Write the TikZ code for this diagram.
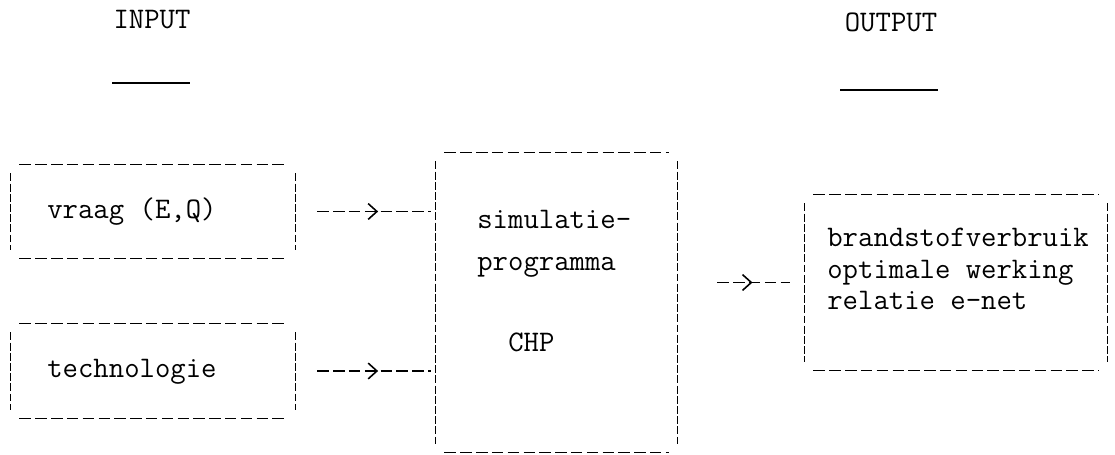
\documentclass[tikz,border=0pt]{standalone}
\usepackage{tikz}
\usetikzlibrary{arrows.meta,decorations.markings}

\tikzset{
  twtext/.style={font=\ttfamily\fontsize{17}{18}\selectfont, inner sep=0pt},
  hline/.style={line width=0.9pt, dash pattern=on 6.5pt off 2.5pt},
  vline/.style={line width=0.9pt, dash pattern=on 4.5pt off 1.3pt},
  boxnode/.style={draw=none, inner sep=0pt},
  flow/.style={hline, postaction={decorate},
    decoration={markings, mark=at position 0.59 with {\arrow{Straight Barb[length=5pt,width=9pt,line width=0.9pt]}}}}
}

% typed box: four dashed sides with small gaps at the corners
\newcommand{\twbox}[1]{%
  \draw[hline] ([xshift=5pt]#1.north west) -- ([xshift=-5pt]#1.north east);
  \draw[hline] ([xshift=5pt]#1.south west) -- ([xshift=-5pt]#1.south east);
  \draw[vline] ([yshift=-5pt]#1.north west) -- ([yshift=5pt]#1.south west);
  \draw[vline] ([yshift=-5pt]#1.north east) -- ([yshift=5pt]#1.south east);}

\begin{document}
\begin{tikzpicture}[x=0.02cm, y=0.02cm]
                \useasboundingbox (0,0) rectangle (1115,-455);
                % headings
                \node[twtext] (input) at (152,-20) {INPUT};
                \draw[line width=0.7pt] (112,-83) -- (190,-83);
                \node[twtext] (output) at (891,-22) {OUTPUT};
                \draw[line width=0.7pt] (840,-90) -- (938,-90);
                % boxes
                \node[boxnode, minimum width=5.68cm, minimum height=1.86cm] (vraag) at (153,-211.5) {};
                \node[boxnode, minimum width=5.68cm, minimum height=1.88cm] (techn) at (153,-371) {};
                \node[boxnode, minimum width=4.82cm, minimum height=5.98cm] (sim) at (556.5,-302.5) {};
                \node[boxnode, minimum width=6.04cm, minimum height=3.5cm] (out) at (956,-282.5) {};
                \twbox{vraag}
                \twbox{techn}
                \twbox{sim}
                \twbox{out}
                % texts
                \node[twtext, anchor=west] (vraagtxt) at (47,-212) {vraag (E,Q)};
                \node[twtext, anchor=west] (techntxt) at (47,-372) {technologie};
                \node[twtext, anchor=west] (simtxt) at (477,-219) {simulatie-};
                \node[twtext, anchor=west] (progtxt) at (477,-267) {programma};
                \node[twtext, anchor=west] (chptxt) at (508,-342) {CHP};
                \node[twtext, anchor=west, align=left] (outtxt) at (827,-269) {brandstofverbruik\\optimale werking\\relatie e-net};
                % connectors
                \draw[flow, shorten <=0.44cm, shorten >=0.1cm] (vraag.east) -- (sim.west |- vraag.east);
                \draw[flow, shorten <=0.44cm, shorten >=0.1cm] (techn.east) -- (sim.west |- techn.east);
                \draw[flow, shorten <=0.8cm, shorten >=0.3cm] (sim.east |- out.west) -- (out.west);
              \end{tikzpicture}
\end{document}
